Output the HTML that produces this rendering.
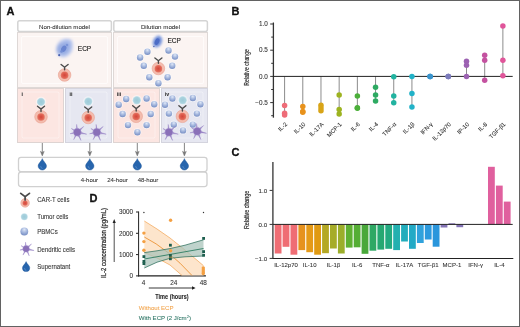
<!DOCTYPE html>
<html><head><meta charset="utf-8"><style>
html,body{margin:0;padding:0;background:#fff;}
svg{display:block;will-change:transform;}
</style></head><body>
<svg width="520" height="327" viewBox="0 0 520 327">
<defs>
 <radialGradient id="pbmc" cx="50%" cy="30%" r="75%" fx="50%" fy="25%">
  <stop offset="0" stop-color="#dfe8f7"/>
  <stop offset="0.45" stop-color="#a8badf"/>
  <stop offset="1" stop-color="#7088c0"/>
 </radialGradient>
 <radialGradient id="halo" cx="50%" cy="50%" r="50%">
  <stop offset="0.6" stop-color="#ffffff" stop-opacity="0.9"/>
  <stop offset="1" stop-color="#ffffff" stop-opacity="0"/>
 </radialGradient>
 <radialGradient id="tumor" cx="50%" cy="50%" r="50%">
  <stop offset="0" stop-color="#9ccad8"/>
  <stop offset="0.7" stop-color="#a9d2de"/>
  <stop offset="1" stop-color="#cfe6ee"/>
 </radialGradient>
 <radialGradient id="cart" cx="50%" cy="50%" r="50%">
  <stop offset="0" stop-color="#d2463a"/>
  <stop offset="0.6" stop-color="#df5d4e"/>
  <stop offset="1" stop-color="#e57866"/>
 </radialGradient>
 <filter id="blur1" x="-60%" y="-60%" width="220%" height="220%"><feGaussianBlur stdDeviation="1.6"/></filter>
 <filter id="blur2" x="-60%" y="-60%" width="220%" height="220%"><feGaussianBlur stdDeviation="0.7"/></filter>
 <filter id="blur3" x="-60%" y="-60%" width="220%" height="220%"><feGaussianBlur stdDeviation="0.35"/></filter>
</defs>

<rect x="0.5" y="0.5" width="519" height="326" fill="#fff" stroke="#626262" stroke-width="1"/>
<text x="6.6" y="14.9" font-family='"Liberation Sans", sans-serif' font-weight="bold" font-size="11" fill="#111" stroke="#111" stroke-width="0.3">A</text>
<text x="231.5" y="14.6" font-family='"Liberation Sans", sans-serif' font-weight="bold" font-size="11" fill="#111" stroke="#111" stroke-width="0.3">B</text>
<text x="231.5" y="155.9" font-family='"Liberation Sans", sans-serif' font-weight="bold" font-size="11" fill="#111" stroke="#111" stroke-width="0.3">C</text>
<text x="89.6" y="201.5" font-family='"Liberation Sans", sans-serif' font-weight="bold" font-size="11" fill="#111" stroke="#111" stroke-width="0.3">D</text>
<rect x="17.8" y="20.8" width="93.6" height="10.6" rx="1.8" fill="#fff" stroke="#d4d4d4" stroke-width="1.5"/>
<rect x="113.8" y="20.8" width="93.6" height="10.6" rx="1.8" fill="#fff" stroke="#d4d4d4" stroke-width="1.5"/>
<text x="64.5" y="28.8" text-anchor="middle" font-family='"Liberation Sans", sans-serif' font-size="6.1" fill="#2a2a2a" stroke="#2a2a2a" stroke-width="0.05">Non-dilution model</text>
<text x="160.5" y="28.8" text-anchor="middle" font-family='"Liberation Sans", sans-serif' font-size="6.2" fill="#2a2a2a" stroke="#2a2a2a" stroke-width="0.05">Dilution model</text>
<rect x="17.5" y="32.5" width="94" height="55" fill="#fbf4f2" stroke="#ded8d6" stroke-width="1"/>
<rect x="113.5" y="32.5" width="94" height="55" fill="#fbf4f2" stroke="#ded8d6" stroke-width="1"/>
<rect x="21.5" y="36.5" width="86" height="47" rx="1.5" fill="none" stroke="#fff" stroke-opacity="0.8" stroke-width="0.8"/>
<rect x="117.5" y="36.5" width="86" height="47" rx="1.5" fill="none" stroke="#fff" stroke-opacity="0.8" stroke-width="0.8"/>
<rect x="17.5" y="88.5" width="46" height="54" fill="#fce6e2" stroke="#ded4d2" stroke-width="1"/>
<rect x="65.5" y="88.5" width="46" height="54" fill="#e6e7f1" stroke="#d4d4de" stroke-width="1"/>
<rect x="113.5" y="88.5" width="46" height="54" fill="#fce6e2" stroke="#ded4d2" stroke-width="1"/>
<rect x="161.5" y="88.5" width="46" height="54" fill="#e6e7f1" stroke="#d4d4de" stroke-width="1"/>
<rect x="22.0" y="92" width="37" height="46" rx="1.5" fill="none" stroke="#fff" stroke-opacity="0.55" stroke-width="0.7"/>
<rect x="70.0" y="92" width="37" height="46" rx="1.5" fill="none" stroke="#fff" stroke-opacity="0.55" stroke-width="0.7"/>
<rect x="118.0" y="92" width="37" height="46" rx="1.5" fill="none" stroke="#fff" stroke-opacity="0.55" stroke-width="0.7"/>
<rect x="166.0" y="92" width="37" height="46" rx="1.5" fill="none" stroke="#fff" stroke-opacity="0.55" stroke-width="0.7"/>
<text x="21.5" y="95.5" font-family='"Liberation Sans", sans-serif' font-size="5.2" font-weight="bold" fill="#333" stroke="#333" stroke-width="0.08">i</text>
<text x="69.5" y="95.5" font-family='"Liberation Sans", sans-serif' font-size="5.2" font-weight="bold" fill="#333" stroke="#333" stroke-width="0.08">ii</text>
<text x="116.8" y="95.5" font-family='"Liberation Sans", sans-serif' font-size="5.2" font-weight="bold" fill="#333" stroke="#333" stroke-width="0.08">iii</text>
<text x="164.8" y="95.5" font-family='"Liberation Sans", sans-serif' font-size="5.2" font-weight="bold" fill="#333" stroke="#333" stroke-width="0.08">iv</text>
<g transform="translate(64.5,48) scale(1.0)"><g filter="url(#blur1)"><ellipse cx="0" cy="0" rx="8" ry="9.5" transform="rotate(30)" fill="#b9c8ee"/><ellipse cx="3.5" cy="-4.5" rx="4.5" ry="4.5" fill="#afc0ec"/><ellipse cx="-2" cy="2" rx="5" ry="6" transform="rotate(30)" fill="#9cb0e4"/><ellipse cx="0" cy="0.5" rx="5" ry="6.5" transform="rotate(30)" fill="#95abe2"/></g><g filter="url(#blur2)"><ellipse cx="-0.3" cy="1" rx="2.4" ry="3.4" transform="rotate(30)" fill="#6a85d0"/><circle cx="2.5" cy="-3" r="1.3" fill="#7d96d8"/><circle cx="-3" cy="3.5" r="1.3" fill="#7690d6"/></g><circle cx="-5.3" cy="7.2" r="1.1" fill="#4c64b2" filter="url(#blur3)"/></g>
<text x="77.8" y="50.5" font-family='"Liberation Sans", sans-serif' font-size="6.5" fill="#1e1e1e" stroke="#1e1e1e" stroke-width="0.15">ECP</text>
<circle cx="64.6" cy="75.0" r="6.3" fill="#f3bcae" stroke="#e79d8d" stroke-width="0.55"/>
<circle cx="64.6" cy="75.2" r="3.78" fill="url(#cart)" filter="url(#blur3)"/>
<g stroke="#4a4a4a" stroke-width="1.40" stroke-linecap="round" fill="none"><path d="M61.10,64.50 L64.60,67.20 L68.10,64.50 M64.60,67.20 L64.60,69.80"/></g>
<g transform="translate(157.5,41.5) scale(0.68)"><g filter="url(#blur1)"><ellipse cx="0" cy="0" rx="7" ry="9.5" transform="rotate(25)" fill="#9db2e6"/><ellipse cx="0" cy="0" rx="5" ry="7.5" transform="rotate(25)" fill="#6f8cd6"/></g><g filter="url(#blur2)"><ellipse cx="-0.5" cy="0.5" rx="3.2" ry="5" transform="rotate(25)" fill="#4d6cc6"/></g><circle cx="-5.3" cy="7.2" r="1.1" fill="#4c64b2" filter="url(#blur3)"/></g>
<text x="167.5" y="42.6" font-family='"Liberation Sans", sans-serif' font-size="6.5" fill="#1e1e1e" stroke="#1e1e1e" stroke-width="0.15">ECP</text>
<circle cx="158.4" cy="68.5" r="6.3" fill="#f3bcae" stroke="#e79d8d" stroke-width="0.55"/>
<circle cx="158.4" cy="68.7" r="3.78" fill="url(#cart)" filter="url(#blur3)"/>
<g stroke="#4a4a4a" stroke-width="1.40" stroke-linecap="round" fill="none"><path d="M154.90,58.00 L158.40,60.70 L161.90,58.00 M158.40,60.70 L158.40,63.30"/></g>
<circle cx="147.4" cy="51.7" r="4.6" fill="url(#halo)"/>
<circle cx="147.4" cy="51.7" r="3.2" fill="url(#pbmc)" filter="url(#blur3)"/>
<circle cx="168.5" cy="50.5" r="4.6" fill="url(#halo)"/>
<circle cx="168.5" cy="50.5" r="3.2" fill="url(#pbmc)" filter="url(#blur3)"/>
<circle cx="140.1" cy="57.5" r="4.6" fill="url(#halo)"/>
<circle cx="140.1" cy="57.5" r="3.2" fill="url(#pbmc)" filter="url(#blur3)"/>
<circle cx="175" cy="56.6" r="4.6" fill="url(#halo)"/>
<circle cx="175" cy="56.6" r="3.2" fill="url(#pbmc)" filter="url(#blur3)"/>
<circle cx="143.8" cy="65.8" r="4.6" fill="url(#halo)"/>
<circle cx="143.8" cy="65.8" r="3.2" fill="url(#pbmc)" filter="url(#blur3)"/>
<circle cx="172.2" cy="65.8" r="4.6" fill="url(#halo)"/>
<circle cx="172.2" cy="65.8" r="3.2" fill="url(#pbmc)" filter="url(#blur3)"/>
<circle cx="149.3" cy="77.3" r="4.6" fill="url(#halo)"/>
<circle cx="149.3" cy="77.3" r="3.2" fill="url(#pbmc)" filter="url(#blur3)"/>
<circle cx="167.6" cy="77.3" r="4.6" fill="url(#halo)"/>
<circle cx="167.6" cy="77.3" r="3.2" fill="url(#pbmc)" filter="url(#blur3)"/>
<circle cx="158.4" cy="83.2" r="4.6" fill="url(#halo)"/>
<circle cx="158.4" cy="83.2" r="3.2" fill="url(#pbmc)" filter="url(#blur3)"/>
<circle cx="41" cy="101.9" r="5.800000000000001" fill="url(#halo)"/>
<circle cx="41" cy="101.9" r="4.2" fill="url(#tumor)" filter="url(#blur3)"/>
<circle cx="41" cy="116.8" r="6.3" fill="#f3bcae" stroke="#e79d8d" stroke-width="0.55"/>
<circle cx="41" cy="117.0" r="3.78" fill="url(#cart)" filter="url(#blur3)"/>
<g stroke="#4a4a4a" stroke-width="1.40" stroke-linecap="round" fill="none"><path d="M37.50,106.30 L41.00,109.00 L44.50,106.30 M41.00,109.00 L41.00,111.60"/></g>
<circle cx="88.3" cy="101.5" r="5.800000000000001" fill="url(#halo)"/>
<circle cx="88.3" cy="101.5" r="4.2" fill="url(#tumor)" filter="url(#blur3)"/>
<circle cx="88.2" cy="117.5" r="6.3" fill="#f3bcae" stroke="#e79d8d" stroke-width="0.55"/>
<circle cx="88.2" cy="117.7" r="3.78" fill="url(#cart)" filter="url(#blur3)"/>
<g stroke="#4a4a4a" stroke-width="1.40" stroke-linecap="round" fill="none"><path d="M84.70,107.00 L88.20,109.70 L91.70,107.00 M88.20,109.70 L88.20,112.30"/></g>
<path d="M73.86,131.15 L73.59,130.23 L71.36,128.49 L73.90,129.73 L74.84,129.57 L75.16,128.70 L76.07,128.82 L76.57,127.58 L76.62,124.43 L77.22,127.52 L77.93,128.65 L78.80,128.39 L79.26,129.18 L80.88,128.49 L83.69,126.45 L81.37,129.02 L80.51,130.57 L81.26,131.14 L80.90,132.01 L83.00,133.00 L86.69,134.20 L82.84,133.79 L80.51,133.83 L80.49,134.78 L79.57,135.00 L79.84,136.97 L80.96,140.42 L79.15,137.27 L77.86,135.76 L77.23,136.30 L76.61,135.73 L75.46,136.76 L73.71,139.57 L74.84,136.46 L74.94,134.92 L74.07,134.72 L74.09,133.83 L73.03,133.42 L70.06,133.74 L72.90,132.82 L73.70,132.01 L73.26,131.49 Z" fill="#9c88c8" stroke="#9783c4" stroke-width="0.4" stroke-linejoin="round"/>
<circle cx="77.3" cy="132.2" r="3.40" fill="#8a70b8" filter="url(#blur2)"/>
<path d="M93.36,131.15 L93.09,130.23 L90.86,128.49 L93.40,129.73 L94.34,129.57 L94.66,128.70 L95.57,128.82 L96.07,127.58 L96.12,124.43 L96.72,127.52 L97.43,128.65 L98.30,128.39 L98.76,129.18 L100.38,128.49 L103.19,126.45 L100.87,129.02 L100.01,130.57 L100.76,131.14 L100.40,132.01 L102.50,133.00 L106.19,134.20 L102.34,133.79 L100.01,133.83 L99.99,134.78 L99.07,135.00 L99.34,136.97 L100.46,140.42 L98.65,137.27 L97.36,135.76 L96.73,136.30 L96.11,135.73 L94.96,136.76 L93.21,139.57 L94.34,136.46 L94.44,134.92 L93.57,134.72 L93.59,133.83 L92.53,133.42 L89.56,133.74 L92.40,132.82 L93.20,132.01 L92.76,131.49 Z" fill="#9c88c8" stroke="#9783c4" stroke-width="0.4" stroke-linejoin="round"/>
<circle cx="96.8" cy="132.2" r="3.40" fill="#8a70b8" filter="url(#blur2)"/>
<circle cx="126.2" cy="99" r="4.6" fill="url(#halo)"/>
<circle cx="126.2" cy="99" r="3.2" fill="url(#pbmc)" filter="url(#blur3)"/>
<circle cx="146.6" cy="98.5" r="4.6" fill="url(#halo)"/>
<circle cx="146.6" cy="98.5" r="3.2" fill="url(#pbmc)" filter="url(#blur3)"/>
<circle cx="118.7" cy="104.7" r="4.6" fill="url(#halo)"/>
<circle cx="118.7" cy="104.7" r="3.2" fill="url(#pbmc)" filter="url(#blur3)"/>
<circle cx="154.2" cy="104.2" r="4.6" fill="url(#halo)"/>
<circle cx="154.2" cy="104.2" r="3.2" fill="url(#pbmc)" filter="url(#blur3)"/>
<circle cx="122.6" cy="114" r="4.6" fill="url(#halo)"/>
<circle cx="122.6" cy="114" r="3.2" fill="url(#pbmc)" filter="url(#blur3)"/>
<circle cx="150.7" cy="114" r="4.6" fill="url(#halo)"/>
<circle cx="150.7" cy="114" r="3.2" fill="url(#pbmc)" filter="url(#blur3)"/>
<circle cx="128" cy="125.1" r="4.6" fill="url(#halo)"/>
<circle cx="128" cy="125.1" r="3.2" fill="url(#pbmc)" filter="url(#blur3)"/>
<circle cx="146.6" cy="125.1" r="4.6" fill="url(#halo)"/>
<circle cx="146.6" cy="125.1" r="3.2" fill="url(#pbmc)" filter="url(#blur3)"/>
<circle cx="137.4" cy="132.2" r="4.6" fill="url(#halo)"/>
<circle cx="137.4" cy="132.2" r="3.2" fill="url(#pbmc)" filter="url(#blur3)"/>
<circle cx="136.8" cy="100.3" r="5.800000000000001" fill="url(#halo)"/>
<circle cx="136.8" cy="100.3" r="4.2" fill="url(#tumor)" filter="url(#blur3)"/>
<circle cx="136.2" cy="116.3" r="6.3" fill="#f3bcae" stroke="#e79d8d" stroke-width="0.55"/>
<circle cx="136.2" cy="116.5" r="3.78" fill="url(#cart)" filter="url(#blur3)"/>
<g stroke="#4a4a4a" stroke-width="1.40" stroke-linecap="round" fill="none"><path d="M132.70,105.80 L136.20,108.50 L139.70,105.80 M136.20,108.50 L136.20,111.10"/></g>
<circle cx="172.4" cy="98.5" r="4.6" fill="url(#halo)"/>
<circle cx="172.4" cy="98.5" r="3.2" fill="url(#pbmc)" filter="url(#blur3)"/>
<circle cx="192.8" cy="98" r="4.6" fill="url(#halo)"/>
<circle cx="192.8" cy="98" r="3.2" fill="url(#pbmc)" filter="url(#blur3)"/>
<circle cx="165" cy="104.7" r="4.6" fill="url(#halo)"/>
<circle cx="165" cy="104.7" r="3.2" fill="url(#pbmc)" filter="url(#blur3)"/>
<circle cx="200.4" cy="104.2" r="4.6" fill="url(#halo)"/>
<circle cx="200.4" cy="104.2" r="3.2" fill="url(#pbmc)" filter="url(#blur3)"/>
<circle cx="168.9" cy="113.6" r="4.6" fill="url(#halo)"/>
<circle cx="168.9" cy="113.6" r="3.2" fill="url(#pbmc)" filter="url(#blur3)"/>
<circle cx="196.9" cy="113.6" r="4.6" fill="url(#halo)"/>
<circle cx="196.9" cy="113.6" r="3.2" fill="url(#pbmc)" filter="url(#blur3)"/>
<circle cx="173.8" cy="124.6" r="4.6" fill="url(#halo)"/>
<circle cx="173.8" cy="124.6" r="3.2" fill="url(#pbmc)" filter="url(#blur3)"/>
<circle cx="192.8" cy="124.6" r="4.6" fill="url(#halo)"/>
<circle cx="192.8" cy="124.6" r="3.2" fill="url(#pbmc)" filter="url(#blur3)"/>
<circle cx="183" cy="130.4" r="4.6" fill="url(#halo)"/>
<circle cx="183" cy="130.4" r="3.2" fill="url(#pbmc)" filter="url(#blur3)"/>
<circle cx="182.7" cy="100.3" r="5.800000000000001" fill="url(#halo)"/>
<circle cx="182.7" cy="100.3" r="4.2" fill="url(#tumor)" filter="url(#blur3)"/>
<circle cx="182.4" cy="116.3" r="6.3" fill="#f3bcae" stroke="#e79d8d" stroke-width="0.55"/>
<circle cx="182.4" cy="116.5" r="3.78" fill="url(#cart)" filter="url(#blur3)"/>
<g stroke="#4a4a4a" stroke-width="1.40" stroke-linecap="round" fill="none"><path d="M178.90,105.80 L182.40,108.50 L185.90,105.80 M182.40,108.50 L182.40,111.10"/></g>
<path d="M165.46,131.15 L165.19,130.23 L162.96,128.49 L165.50,129.73 L166.44,129.57 L166.76,128.70 L167.67,128.82 L168.17,127.58 L168.22,124.43 L168.82,127.52 L169.53,128.65 L170.40,128.39 L170.86,129.18 L172.48,128.49 L175.29,126.45 L172.97,129.02 L172.11,130.57 L172.86,131.14 L172.50,132.01 L174.60,133.00 L178.29,134.20 L174.44,133.79 L172.11,133.83 L172.09,134.78 L171.17,135.00 L171.44,136.97 L172.56,140.42 L170.75,137.27 L169.46,135.76 L168.83,136.30 L168.21,135.73 L167.06,136.76 L165.31,139.57 L166.44,136.46 L166.54,134.92 L165.67,134.72 L165.69,133.83 L164.63,133.42 L161.66,133.74 L164.50,132.82 L165.30,132.01 L164.86,131.49 Z" fill="#9c88c8" stroke="#9783c4" stroke-width="0.4" stroke-linejoin="round"/>
<circle cx="168.9" cy="132.2" r="3.40" fill="#8a70b8" filter="url(#blur2)"/>
<path d="M193.76,130.25 L193.49,129.33 L191.26,127.59 L193.80,128.83 L194.74,128.67 L195.06,127.80 L195.97,127.92 L196.47,126.68 L196.52,123.53 L197.12,126.62 L197.83,127.75 L198.70,127.49 L199.16,128.28 L200.78,127.59 L203.59,125.55 L201.27,128.12 L200.41,129.67 L201.16,130.24 L200.80,131.11 L202.90,132.10 L206.59,133.30 L202.74,132.89 L200.41,132.93 L200.39,133.88 L199.47,134.10 L199.74,136.07 L200.86,139.52 L199.05,136.37 L197.76,134.86 L197.13,135.40 L196.51,134.83 L195.36,135.86 L193.61,138.67 L194.74,135.56 L194.84,134.02 L193.97,133.82 L193.99,132.93 L192.93,132.52 L189.96,132.84 L192.80,131.92 L193.60,131.11 L193.16,130.59 Z" fill="#9c88c8" stroke="#9783c4" stroke-width="0.4" stroke-linejoin="round"/>
<circle cx="197.2" cy="131.3" r="3.40" fill="#8a70b8" filter="url(#blur2)"/>
<line x1="42.3" y1="143" x2="42.3" y2="154" stroke="#777" stroke-width="0.9"/>
<path d="M40.4,151.3 L42.3,156 L44.199999999999996,151.3 L42.3,152.6 Z" stroke="#777" stroke-width="0.5" fill="#777" stroke-linejoin="round"/>
<line x1="89.8" y1="143" x2="89.8" y2="154" stroke="#777" stroke-width="0.9"/>
<path d="M87.89999999999999,151.3 L89.8,156 L91.7,151.3 L89.8,152.6 Z" stroke="#777" stroke-width="0.5" fill="#777" stroke-linejoin="round"/>
<line x1="137.3" y1="143" x2="137.3" y2="154" stroke="#777" stroke-width="0.9"/>
<path d="M135.4,151.3 L137.3,156 L139.20000000000002,151.3 L137.3,152.6 Z" stroke="#777" stroke-width="0.5" fill="#777" stroke-linejoin="round"/>
<line x1="184.4" y1="143" x2="184.4" y2="154" stroke="#777" stroke-width="0.9"/>
<path d="M182.5,151.3 L184.4,156 L186.3,151.3 L184.4,152.6 Z" stroke="#777" stroke-width="0.5" fill="#777" stroke-linejoin="round"/>
<rect x="18.5" y="157.4" width="188.5" height="14.2" rx="2.5" fill="#fff" stroke="#d0d0d0" stroke-width="1.3"/>
<rect x="18.5" y="172.2" width="188.5" height="14.4" rx="2.5" fill="#fff" stroke="#d0d0d0" stroke-width="1.3"/>
<path d="M42.3,158.6 C43.099999999999994,161.1 46.5,163.70000000000002 46.5,165.9 A4.2,4.2 0 0 1 38.099999999999994,165.9 C38.099999999999994,163.70000000000002 41.5,161.1 42.3,158.6 Z" fill="#2765ad" stroke="#1f5597" stroke-width="0.4"/>
<path d="M40.699999999999996,166.1 q0,2 1.8,2.4" stroke="#6a9ad2" stroke-width="0.6" fill="none"/>
<path d="M89.8,158.6 C90.6,161.1 94.0,163.70000000000002 94.0,165.9 A4.2,4.2 0 0 1 85.6,165.9 C85.6,163.70000000000002 89.0,161.1 89.8,158.6 Z" fill="#2765ad" stroke="#1f5597" stroke-width="0.4"/>
<path d="M88.2,166.1 q0,2 1.8,2.4" stroke="#6a9ad2" stroke-width="0.6" fill="none"/>
<path d="M137.3,158.6 C138.10000000000002,161.1 141.5,163.70000000000002 141.5,165.9 A4.2,4.2 0 0 1 133.10000000000002,165.9 C133.10000000000002,163.70000000000002 136.5,161.1 137.3,158.6 Z" fill="#2765ad" stroke="#1f5597" stroke-width="0.4"/>
<path d="M135.70000000000002,166.1 q0,2 1.8,2.4" stroke="#6a9ad2" stroke-width="0.6" fill="none"/>
<path d="M184.4,158.6 C185.20000000000002,161.1 188.6,163.70000000000002 188.6,165.9 A4.2,4.2 0 0 1 180.20000000000002,165.9 C180.20000000000002,163.70000000000002 183.6,161.1 184.4,158.6 Z" fill="#2765ad" stroke="#1f5597" stroke-width="0.4"/>
<path d="M182.8,166.1 q0,2 1.8,2.4" stroke="#6a9ad2" stroke-width="0.6" fill="none"/>
<text x="89.4" y="181.9" text-anchor="middle" font-family='"Liberation Sans", sans-serif' font-size="6" fill="#333" stroke="#333" stroke-width="0.08">4-hour</text>
<text x="117.5" y="181.9" text-anchor="middle" font-family='"Liberation Sans", sans-serif' font-size="6" fill="#333" stroke="#333" stroke-width="0.08">24-hour</text>
<text x="148" y="181.9" text-anchor="middle" font-family='"Liberation Sans", sans-serif' font-size="6" fill="#333" stroke="#333" stroke-width="0.08">48-hour</text>
<circle cx="25.1" cy="202.9" r="4.3" fill="#f3bcae" stroke="#e79d8d" stroke-width="0.55"/>
<circle cx="25.1" cy="203.1" r="2.58" fill="url(#cart)" filter="url(#blur3)"/>
<g stroke="#4a4a4a" stroke-width="1.75" stroke-linecap="round" fill="none"><path d="M20.73,193.35 L25.10,196.72 L29.48,193.35 M25.10,196.72 L25.10,199.97"/></g>
<circle cx="24.3" cy="216.8" r="5.1" fill="url(#halo)"/>
<circle cx="24.3" cy="216.8" r="3.5" fill="url(#tumor)" filter="url(#blur3)"/>
<circle cx="24.3" cy="231.5" r="5.3" fill="url(#halo)"/>
<circle cx="24.3" cy="231.5" r="3.9" fill="url(#pbmc)" filter="url(#blur3)"/>
<path d="M23.17,247.91 L22.95,247.12 L21.05,245.65 L23.21,246.70 L24.01,246.56 L24.28,245.83 L25.05,245.92 L25.48,244.87 L25.52,242.20 L26.03,244.82 L26.63,245.79 L27.38,245.56 L27.77,246.23 L29.15,245.64 L31.53,243.91 L29.56,246.10 L28.83,247.41 L29.47,247.90 L29.16,248.64 L30.95,249.48 L34.08,250.50 L30.81,250.15 L28.83,250.19 L28.81,250.99 L28.03,251.18 L28.25,252.85 L29.21,255.79 L27.67,253.11 L26.58,251.82 L26.04,252.28 L25.52,251.80 L24.53,252.68 L23.04,255.06 L24.01,252.42 L24.09,251.11 L23.35,250.95 L23.37,250.19 L22.47,249.84 L19.95,250.11 L22.36,249.33 L23.04,248.64 L22.67,248.19 Z" fill="#9c88c8" stroke="#9783c4" stroke-width="0.4" stroke-linejoin="round"/>
<circle cx="26.1" cy="248.8" r="2.89" fill="#8a70b8" filter="url(#blur2)"/>
<path d="M26.1,261.6 C26.900000000000002,264.1 29.8,265.70000000000005 29.8,267.90000000000003 A3.7,3.7 0 0 1 22.400000000000002,267.90000000000003 C22.400000000000002,265.70000000000005 25.3,264.1 26.1,261.6 Z" fill="#2765ad" stroke="#1f5597" stroke-width="0.4"/>
<path d="M24.5,268.1 q0,2 1.8,2.4" stroke="#6a9ad2" stroke-width="0.6" fill="none"/>
<text x="37.2" y="201.6" font-family='"Liberation Sans", sans-serif' font-size="6.4" fill="#333" transform="translate(37.2 0) scale(0.95 1) translate(-37.2 0)" stroke="#333" stroke-width="0.08">CAR-T cells</text>
<text x="37.2" y="218.8" font-family='"Liberation Sans", sans-serif' font-size="6.4" fill="#333" transform="translate(37.2 0) scale(0.95 1) translate(-37.2 0)" stroke="#333" stroke-width="0.08">Tumor cells</text>
<text x="37.2" y="234.3" font-family='"Liberation Sans", sans-serif' font-size="6.4" fill="#333" transform="translate(37.2 0) scale(0.95 1) translate(-37.2 0)" stroke="#333" stroke-width="0.08">PBMCs</text>
<text x="37.2" y="251.8" font-family='"Liberation Sans", sans-serif' font-size="6.4" fill="#333" transform="translate(37.2 0) scale(0.95 1) translate(-37.2 0)" stroke="#333" stroke-width="0.08">Dendritic cells</text>
<text x="37.2" y="269.2" font-family='"Liberation Sans", sans-serif' font-size="6.4" fill="#333" transform="translate(37.2 0) scale(0.95 1) translate(-37.2 0)" stroke="#333" stroke-width="0.08">Supernatant</text>
<g stroke="#222" stroke-width="1">
<line x1="138.6" y1="211.5" x2="138.6" y2="276.4"/>
<line x1="138.1" y1="275.9" x2="205.9" y2="275.9" stroke-width="1.2"/>
<line x1="136" y1="275.90" x2="138.6" y2="275.90"/>
<line x1="136" y1="254.60" x2="138.6" y2="254.60"/>
<line x1="136" y1="233.30" x2="138.6" y2="233.30"/>
<line x1="136" y1="212.00" x2="138.6" y2="212.00"/>
</g>
<text x="133" y="278.10" text-anchor="end" font-family='"Liberation Sans", sans-serif' font-size="6.3" fill="#333" stroke="#333" stroke-width="0.08">0</text>
<text x="133" y="256.80" text-anchor="end" font-family='"Liberation Sans", sans-serif' font-size="6.3" fill="#333" stroke="#333" stroke-width="0.08">1000</text>
<text x="133" y="235.50" text-anchor="end" font-family='"Liberation Sans", sans-serif' font-size="6.3" fill="#333" stroke="#333" stroke-width="0.08">2000</text>
<text x="133" y="214.20" text-anchor="end" font-family='"Liberation Sans", sans-serif' font-size="6.3" fill="#333" stroke="#333" stroke-width="0.08">3000</text>
<text x="143.60" y="284.8" text-anchor="middle" font-family='"Liberation Sans", sans-serif' font-size="6.4" fill="#333" stroke="#333" stroke-width="0.08">4</text>
<text x="173.80" y="284.8" text-anchor="middle" font-family='"Liberation Sans", sans-serif' font-size="6.4" fill="#333" stroke="#333" stroke-width="0.08">24</text>
<text x="203.20" y="284.8" text-anchor="middle" font-family='"Liberation Sans", sans-serif' font-size="6.4" fill="#333" stroke="#333" stroke-width="0.08">48</text>
<line x1="148.8" y1="288" x2="193.5" y2="288" stroke="#222" stroke-width="0.9"/>
<path d="M192,286.3 L195.6,288 L192,289.7 Z" fill="#222"/>
<text x="172" y="299.4" text-anchor="middle" font-family='"Liberation Sans", sans-serif' font-size="7.7" font-weight="bold" fill="#222" transform="translate(172 0) scale(0.72 1) translate(-172 0)" stroke="#222" stroke-width="0.08">Time (hours)</text>
<text x="138.7" y="310.0" font-family='"Liberation Sans", sans-serif' font-size="6.1" fill="#f2a650" stroke="#f2a650" stroke-width="0.08">Without ECP</text>
<text x="138.7" y="319.8" font-family='"Liberation Sans", sans-serif' font-size="6.1" fill="#2c7565" stroke="#2c7565" stroke-width="0.08">With ECP (2 J/cm<tspan font-size="4" dy="-2.2">2</tspan><tspan dy="2.2">)</tspan></text>
<text transform="translate(106.4 243) rotate(-90) scale(0.88 1)" text-anchor="middle" font-family='"Liberation Sans", sans-serif' font-size="6.8" fill="#2a2a2a" stroke="#2a2a2a" stroke-width="0.22">IL-2 concentration (pg/mL)</text>
<line x1="114.2" y1="262" x2="114.2" y2="222" stroke="#222" stroke-width="0.8"/>
<path d="M112.6,223 L114.2,219 L115.8,223 Z" fill="#222"/>
<path d="M144.30,221.00 L157.00,229.00 L170.00,238.00 L185.00,250.00 L203.50,265.70 L203.50,275.50 L182.00,275.50 L170.00,265.00 L157.00,258.00 L144.30,252.50 Z" fill="#fde2c6" opacity="0.9"/>
<polyline points="144.3,221 157,229 170,238 185,250 203.5,265.7" fill="none" stroke="#f2a452" stroke-width="0.7"/>
<polyline points="144.3,252.5 157,258 170,265 182,275.5" fill="none" stroke="#f2a452" stroke-width="0.7"/>
<path d="M144.3,237 Q168,249 192,275.5" stroke="#eb9438" stroke-width="0.9" fill="none"/>
<path d="M144.30,252.60 L157.00,250.80 L170.00,248.60 L185.00,245.20 L203.50,239.80 L203.50,256.00 L185.00,256.80 L170.00,258.30 L157.00,262.20 L144.30,268.00 Z" fill="#a6c2b8" opacity="0.72"/>
<polyline points="144.3,252.6 157,250.8 170,248.6 185,245.2 203.5,239.8" fill="none" stroke="#2e6f5c" stroke-width="0.75"/>
<polyline points="144.3,268 157,262.2 170,258.3 185,256.8 203.5,256" fill="none" stroke="#2e6f5c" stroke-width="0.75"/>
<line x1="144.3" y1="259" x2="203.5" y2="248.5" stroke="#2f7d62" stroke-width="0.9"/>
<circle cx="143.9" cy="233.1" r="1.7" fill="#f4a043"/>
<circle cx="143.9" cy="241.6" r="1.7" fill="#f4a043"/>
<circle cx="143.9" cy="250.3" r="1.7" fill="#f4a043"/>
<circle cx="170.6" cy="220.2" r="1.7" fill="#f4a043"/>
<circle cx="170.6" cy="250.8" r="1.7" fill="#f4a043"/>
<circle cx="170.6" cy="257.5" r="1.7" fill="#f4a043"/>
<circle cx="203.3" cy="268" r="1.7" fill="#f4a043"/>
<circle cx="203.3" cy="270" r="1.7" fill="#f4a043"/>
<circle cx="203.3" cy="272" r="1.7" fill="#f4a043"/>
<circle cx="203.3" cy="273.5" r="1.7" fill="#f4a043"/>
<rect x="142.5" y="255.20000000000002" width="2.8" height="2.8" fill="#1d5e4e"/>
<rect x="142.5" y="260.0" width="2.8" height="2.8" fill="#1d5e4e"/>
<rect x="142.5" y="262.20000000000005" width="2.8" height="2.8" fill="#1d5e4e"/>
<rect x="169.0" y="243.79999999999998" width="2.8" height="2.8" fill="#1d5e4e"/>
<rect x="169.0" y="254.0" width="2.8" height="2.8" fill="#1d5e4e"/>
<rect x="169.0" y="257.40000000000003" width="2.8" height="2.8" fill="#1d5e4e"/>
<rect x="202.2" y="237.0" width="2.8" height="2.8" fill="#1d5e4e"/>
<rect x="202.2" y="250.2" width="2.8" height="2.8" fill="#1d5e4e"/>
<rect x="202.2" y="253.9" width="2.8" height="2.8" fill="#1d5e4e"/>
<circle cx="143.9" cy="212.5" r="0.7" fill="#333"/>
<circle cx="203.5" cy="212.5" r="0.7" fill="#333"/>
<g stroke="#333" stroke-width="1">
<line x1="273.4" y1="22.5" x2="273.4" y2="117.7" stroke-width="1.3"/>
<line x1="270.2" y1="24.00" x2="273" y2="24.00"/>
<line x1="270.2" y1="50.20" x2="273" y2="50.20"/>
<line x1="270.2" y1="76.40" x2="273" y2="76.40"/>
<line x1="270.2" y1="102.60" x2="273" y2="102.60"/>
<line x1="271.2" y1="37.10" x2="273" y2="37.10"/>
<line x1="271.2" y1="63.30" x2="273" y2="63.30"/>
<line x1="271.2" y1="89.50" x2="273" y2="89.50"/>
<line x1="271.2" y1="115.70" x2="273" y2="115.70"/>
</g>
<text x="267.8" y="26.20" text-anchor="end" font-family='"Liberation Sans", sans-serif' font-size="6.4" fill="#333" stroke="#333" stroke-width="0.08">1.0</text>
<text x="267.8" y="52.40" text-anchor="end" font-family='"Liberation Sans", sans-serif' font-size="6.4" fill="#333" stroke="#333" stroke-width="0.08">0.5</text>
<text x="267.8" y="78.60" text-anchor="end" font-family='"Liberation Sans", sans-serif' font-size="6.4" fill="#333" stroke="#333" stroke-width="0.08">0.0</text>
<text x="267.8" y="104.80" text-anchor="end" font-family='"Liberation Sans", sans-serif' font-size="6.4" fill="#333" stroke="#333" stroke-width="0.08">−0.5</text>
<text transform="translate(249.2 67.4) rotate(-90) scale(0.73 1)" text-anchor="middle" font-family='"Liberation Sans", sans-serif' font-size="7" fill="#2a2a2a" stroke="#2a2a2a" stroke-width="0.18">Relative change</text>
<line x1="284.60" y1="76.4" x2="284.60" y2="115" stroke="#8c8c8c" stroke-width="1"/>
<line x1="302.79" y1="76.4" x2="302.79" y2="112.2" stroke="#8c8c8c" stroke-width="1"/>
<line x1="320.98" y1="76.4" x2="320.98" y2="110.8" stroke="#8c8c8c" stroke-width="1"/>
<line x1="339.17" y1="76.4" x2="339.17" y2="114" stroke="#8c8c8c" stroke-width="1"/>
<line x1="357.36" y1="76.4" x2="357.36" y2="108.2" stroke="#8c8c8c" stroke-width="1"/>
<line x1="375.55" y1="76.4" x2="375.55" y2="101.1" stroke="#8c8c8c" stroke-width="1"/>
<line x1="393.74" y1="76.4" x2="393.74" y2="102.8" stroke="#8c8c8c" stroke-width="1"/>
<line x1="411.93" y1="76.4" x2="411.93" y2="107" stroke="#8c8c8c" stroke-width="1"/>
<line x1="430.12" y1="76.4" x2="430.12" y2="76.4" stroke="#8c8c8c" stroke-width="1"/>
<line x1="448.31" y1="76.4" x2="448.31" y2="76.4" stroke="#8c8c8c" stroke-width="1"/>
<line x1="466.50" y1="61.2" x2="466.50" y2="76.4" stroke="#8c8c8c" stroke-width="1"/>
<line x1="484.69" y1="55.3" x2="484.69" y2="80.3" stroke="#8c8c8c" stroke-width="1"/>
<line x1="502.88" y1="25.9" x2="502.88" y2="76.4" stroke="#8c8c8c" stroke-width="1"/>
<line x1="273" y1="76.4" x2="512.7" y2="76.4" stroke="#222" stroke-width="1"/>
<circle cx="284.60" cy="105.5" r="2.75" fill="#ee6c78"/>
<circle cx="284.60" cy="113.2" r="2.75" fill="#ee6c78"/>
<circle cx="284.60" cy="115" r="2.75" fill="#ee6c78"/>
<text transform="translate(287.60 124.6) rotate(-45)" text-anchor="end" font-family='"Liberation Sans", sans-serif' font-size="5.9" fill="#333" stroke="#333" stroke-width="0.08">IL-2</text>
<circle cx="302.79" cy="106.4" r="2.75" fill="#e8921c"/>
<circle cx="302.79" cy="111.6" r="2.75" fill="#e8921c"/>
<circle cx="302.79" cy="112.2" r="2.75" fill="#e8921c"/>
<text transform="translate(305.79 124.6) rotate(-45)" text-anchor="end" font-family='"Liberation Sans", sans-serif' font-size="5.9" fill="#333" stroke="#333" stroke-width="0.08">IL-10</text>
<circle cx="320.98" cy="105.2" r="2.75" fill="#d8a417"/>
<circle cx="320.98" cy="107.9" r="2.75" fill="#d8a417"/>
<circle cx="320.98" cy="110.8" r="2.75" fill="#d8a417"/>
<text transform="translate(323.98 124.6) rotate(-45)" text-anchor="end" font-family='"Liberation Sans", sans-serif' font-size="5.9" fill="#333" stroke="#333" stroke-width="0.08">IL-17A</text>
<circle cx="339.17" cy="94.9" r="2.75" fill="#9db320"/>
<circle cx="339.17" cy="109.5" r="2.75" fill="#9db320"/>
<circle cx="339.17" cy="114" r="2.75" fill="#9db320"/>
<text transform="translate(342.17 124.6) rotate(-45)" text-anchor="end" font-family='"Liberation Sans", sans-serif' font-size="5.9" fill="#333" stroke="#333" stroke-width="0.08">MCP-1</text>
<circle cx="357.36" cy="96" r="2.75" fill="#4caf3a"/>
<circle cx="357.36" cy="107.8" r="2.75" fill="#4caf3a"/>
<circle cx="357.36" cy="108.2" r="2.75" fill="#4caf3a"/>
<text transform="translate(360.36 124.6) rotate(-45)" text-anchor="end" font-family='"Liberation Sans", sans-serif' font-size="5.9" fill="#333" stroke="#333" stroke-width="0.08">IL-6</text>
<circle cx="375.55" cy="87.3" r="2.75" fill="#2daa62"/>
<circle cx="375.55" cy="94.9" r="2.75" fill="#2daa62"/>
<circle cx="375.55" cy="101.1" r="2.75" fill="#2daa62"/>
<text transform="translate(378.55 124.6) rotate(-45)" text-anchor="end" font-family='"Liberation Sans", sans-serif' font-size="5.9" fill="#333" stroke="#333" stroke-width="0.08">IL-4</text>
<circle cx="393.74" cy="76.7" r="2.75" fill="#22b3a0"/>
<circle cx="393.74" cy="96" r="2.75" fill="#22b3a0"/>
<circle cx="393.74" cy="102.8" r="2.75" fill="#22b3a0"/>
<text transform="translate(396.74 124.6) rotate(-45)" text-anchor="end" font-family='"Liberation Sans", sans-serif' font-size="5.9" fill="#333" stroke="#333" stroke-width="0.08">TNF-α</text>
<circle cx="411.93" cy="76.4" r="2.75" fill="#22b2c8"/>
<circle cx="411.93" cy="93.5" r="2.75" fill="#22b2c8"/>
<circle cx="411.93" cy="107" r="2.75" fill="#22b2c8"/>
<text transform="translate(414.93 124.6) rotate(-45)" text-anchor="end" font-family='"Liberation Sans", sans-serif' font-size="5.9" fill="#333" stroke="#333" stroke-width="0.08">IL-1β</text>
<circle cx="430.12" cy="76.4" r="2.75" fill="#3a94cc"/>
<circle cx="430.12" cy="76.4" r="2.75" fill="#3a94cc"/>
<circle cx="430.12" cy="76.4" r="2.75" fill="#3a94cc"/>
<text transform="translate(433.12 124.6) rotate(-45)" text-anchor="end" font-family='"Liberation Sans", sans-serif' font-size="5.9" fill="#333" stroke="#333" stroke-width="0.08">IFN-γ</text>
<circle cx="448.31" cy="76.4" r="2.75" fill="#7c7cbc"/>
<circle cx="448.31" cy="76.4" r="2.75" fill="#7c7cbc"/>
<circle cx="448.31" cy="76.4" r="2.75" fill="#7c7cbc"/>
<text transform="translate(451.31 124.6) rotate(-45)" text-anchor="end" font-family='"Liberation Sans", sans-serif' font-size="5.9" fill="#333" stroke="#333" stroke-width="0.08">IL-12p70</text>
<circle cx="466.50" cy="61.2" r="2.75" fill="#9c62b2"/>
<circle cx="466.50" cy="65.3" r="2.75" fill="#9c62b2"/>
<circle cx="466.50" cy="76.4" r="2.75" fill="#9c62b2"/>
<text transform="translate(469.50 124.6) rotate(-45)" text-anchor="end" font-family='"Liberation Sans", sans-serif' font-size="5.9" fill="#333" stroke="#333" stroke-width="0.08">IP-10</text>
<circle cx="484.69" cy="55.3" r="2.75" fill="#c452a0"/>
<circle cx="484.69" cy="60.2" r="2.75" fill="#c452a0"/>
<circle cx="484.69" cy="80.3" r="2.75" fill="#c452a0"/>
<text transform="translate(487.69 124.6) rotate(-45)" text-anchor="end" font-family='"Liberation Sans", sans-serif' font-size="5.9" fill="#333" stroke="#333" stroke-width="0.08">IL-8</text>
<circle cx="502.88" cy="25.9" r="2.75" fill="#e0559a"/>
<circle cx="502.88" cy="60.2" r="2.75" fill="#e0559a"/>
<circle cx="502.88" cy="75.7" r="2.75" fill="#e0559a"/>
<text transform="translate(505.88 124.6) rotate(-45)" text-anchor="end" font-family='"Liberation Sans", sans-serif' font-size="5.9" fill="#333" stroke="#333" stroke-width="0.08">TGF-β1</text>
<g stroke="#333" stroke-width="1">
<line x1="272.9" y1="162" x2="272.9" y2="258.9" stroke-width="1.3"/>
<line x1="269.6" y1="190.40" x2="272.6" y2="190.40"/>
<line x1="269.6" y1="224.40" x2="272.6" y2="224.40"/>
<line x1="269.6" y1="258.40" x2="272.6" y2="258.40"/>
</g>
<text x="267.2" y="192.70" text-anchor="end" font-family='"Liberation Sans", sans-serif' font-size="6.2" fill="#333" stroke="#333" stroke-width="0.08">1.0</text>
<text x="267.2" y="226.70" text-anchor="end" font-family='"Liberation Sans", sans-serif' font-size="6.2" fill="#333" stroke="#333" stroke-width="0.08">0.0</text>
<text x="267.2" y="260.70" text-anchor="end" font-family='"Liberation Sans", sans-serif' font-size="6.2" fill="#333" stroke="#333" stroke-width="0.08">−1.0</text>
<text transform="translate(249.2 209.9) rotate(-90) scale(0.765 1)" text-anchor="middle" font-family='"Liberation Sans", sans-serif' font-size="7" fill="#2a2a2a" stroke="#2a2a2a" stroke-width="0.18">Relative change</text>
<rect x="274.70" y="224.40" width="6.8" height="29.10" fill="#ef6d74"/>
<rect x="282.60" y="224.40" width="6.8" height="22.40" fill="#ef6d74"/>
<rect x="290.50" y="224.40" width="6.8" height="30.30" fill="#ef6d74"/>
<rect x="298.40" y="224.40" width="6.8" height="25.70" fill="#e6921e"/>
<rect x="306.30" y="224.40" width="6.8" height="27.80" fill="#e59a18"/>
<rect x="314.20" y="224.40" width="6.8" height="30.30" fill="#e09a12"/>
<rect x="322.10" y="224.40" width="6.8" height="28.80" fill="#b4a824"/>
<rect x="330.00" y="224.40" width="6.8" height="24.10" fill="#a6ac28"/>
<rect x="337.90" y="224.40" width="6.8" height="29.10" fill="#9cae2a"/>
<rect x="345.80" y="224.40" width="6.8" height="23.20" fill="#5fb132"/>
<rect x="353.70" y="224.40" width="6.8" height="22.90" fill="#55ae34"/>
<rect x="361.60" y="224.40" width="6.8" height="29.40" fill="#49a83a"/>
<rect x="369.50" y="224.40" width="6.8" height="26.30" fill="#2ea864"/>
<rect x="377.40" y="224.40" width="6.8" height="25.20" fill="#26a872"/>
<rect x="385.30" y="224.40" width="6.8" height="24.40" fill="#22aa80"/>
<rect x="393.20" y="224.40" width="6.8" height="25.70" fill="#22b0b0"/>
<rect x="401.10" y="224.40" width="6.8" height="17.10" fill="#22adbc"/>
<rect x="409.00" y="224.40" width="6.8" height="24.40" fill="#22aac6"/>
<rect x="416.90" y="224.40" width="6.8" height="18.60" fill="#30a2dc"/>
<rect x="424.80" y="224.40" width="6.8" height="15.10" fill="#2c9ade"/>
<rect x="432.70" y="224.40" width="6.8" height="22.30" fill="#2a96dc"/>
<rect x="440.60" y="224.40" width="6.8" height="3.10" fill="#8474b6"/>
<rect x="448.50" y="223.30" width="6.8" height="1.10" fill="#8474b6"/>
<rect x="456.40" y="224.40" width="6.8" height="2.80" fill="#8474b6"/>
<rect x="488.00" y="166.80" width="6.8" height="57.60" fill="#e0609e"/>
<rect x="495.90" y="185.60" width="6.8" height="38.80" fill="#e0609e"/>
<rect x="503.80" y="201.60" width="6.8" height="22.80" fill="#e0609e"/>
<line x1="272.6" y1="224.4" x2="512.7" y2="224.4" stroke="#222" stroke-width="1"/>
<line x1="272.6" y1="258.5" x2="513.3" y2="258.5" stroke="#222" stroke-width="1"/>
<text x="286.00" y="267" text-anchor="middle" font-family='"Liberation Sans", sans-serif' font-size="6" fill="#333" stroke="#333" stroke-width="0.08">IL-12p70</text>
<text x="309.70" y="267" text-anchor="middle" font-family='"Liberation Sans", sans-serif' font-size="6" fill="#333" stroke="#333" stroke-width="0.08">IL-10</text>
<text x="333.40" y="267" text-anchor="middle" font-family='"Liberation Sans", sans-serif' font-size="6" fill="#333" stroke="#333" stroke-width="0.08">IL-1β</text>
<text x="357.10" y="267" text-anchor="middle" font-family='"Liberation Sans", sans-serif' font-size="6" fill="#333" stroke="#333" stroke-width="0.08">IL-6</text>
<text x="380.80" y="267" text-anchor="middle" font-family='"Liberation Sans", sans-serif' font-size="6" fill="#333" stroke="#333" stroke-width="0.08">TNF-α</text>
<text x="404.50" y="267" text-anchor="middle" font-family='"Liberation Sans", sans-serif' font-size="6" fill="#333" stroke="#333" stroke-width="0.08">IL-17A</text>
<text x="428.20" y="267" text-anchor="middle" font-family='"Liberation Sans", sans-serif' font-size="6" fill="#333" stroke="#333" stroke-width="0.08">TGF-β1</text>
<text x="451.90" y="267" text-anchor="middle" font-family='"Liberation Sans", sans-serif' font-size="6" fill="#333" stroke="#333" stroke-width="0.08">MCP-1</text>
<text x="475.60" y="267" text-anchor="middle" font-family='"Liberation Sans", sans-serif' font-size="6" fill="#333" stroke="#333" stroke-width="0.08">IFN-γ</text>
<text x="499.30" y="267" text-anchor="middle" font-family='"Liberation Sans", sans-serif' font-size="6" fill="#333" stroke="#333" stroke-width="0.08">IL-4</text></svg>
</body></html>
